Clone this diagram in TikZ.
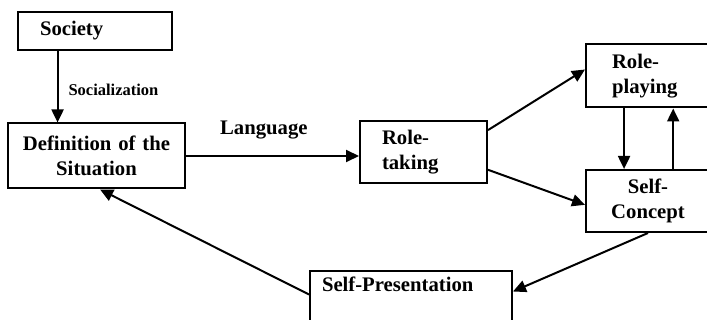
\documentclass[tikz,border=0pt]{standalone}
\usepackage{fontspec}
\setmainfont{Liberation Serif}
\usetikzlibrary{arrows.meta,calc}
\tikzset{%
  >={Triangle[width=12pt,length=13pt]},
  % Specifications for style of nodes:
     base/.style = {rectangle, draw=black, line width=2pt,
                           font=\fontsize{20.7}{25}\selectfont\bfseries},
    leftBox/.style = {base, align=left},
    centreBox/.style = {base, align=center},
    flowLine/.style = {->, line width=2pt},
    edgeLabel/.style = {inner sep=2pt, font=\fontsize{20.7}{25}\selectfont\bfseries},
}

\begin{document}
\begin{tikzpicture}[x=1pt, y=1pt, node distance=125pt]
  \useasboundingbox (0,0) rectangle (707,-320);
  % Specification of nodes (position, etc.)
  \node (society)          [leftBox, text width=110pt, inner xsep=22pt, minimum height=38pt]
                              at (95,-31) {Society};

  \node (definition)       [centreBox, below of=society, xshift=1.5pt,
                              text width=165pt, inner xsep=6pt, minimum height=65pt]
                              {Definition of the\\
                               Situation};

  \node (roleTaking)       [leftBox, right of=definition, xshift=202pt, yshift=3.5pt,
                              text width=83pt, inner xsep=22pt, minimum height=62pt]
                              {Role-\\
                               taking};

  \node (rolePlaying)      [leftBox, right of=roleTaking, xshift=99.5pt, yshift=76.5pt,
                              text width=72pt, inner xsep=26pt, minimum height=63pt]
                              {Role-\\
                               playing};

  \node (selfConcept)      [centreBox, below of=rolePlaying,
                              text width=112pt, inner xsep=6pt, minimum height=62pt]
                              {Self-\\
                               Concept};

  \node (selfPresentation) [leftBox, below of=roleTaking, xshift=-12.5pt, yshift=-23pt,
                              text width=178pt, inner xsep=12pt, inner ysep=5pt,
                              text height=15pt, text depth=33pt]
                              {Self-Presentation};

  % Specification of lines between nodes specified above
  % with aditional nodes for description
  \draw[flowLine] ($(society.south west)!0.26!(society.south east)$) coordinate (socialTop)
        -- (socialTop |- definition.north)
        node[edgeLabel, pos=0.55, right=8pt, font=\fontsize{16.5}{19}\selectfont\bfseries] {Socialization};

  \draw[flowLine] (definition.east) -- (definition.east -| roleTaking.west)
        node[edgeLabel, pos=0.45, above=14pt] {Language};

  \draw[flowLine] ($(roleTaking.north east)!0.15!(roleTaking.south east)$)
        -- ($(rolePlaying.north west)!0.4!(rolePlaying.south west)$);
  \draw[flowLine] ($(roleTaking.north east)!0.77!(roleTaking.south east)$)
        -- ($(selfConcept.north west)!0.56!(selfConcept.south west)$);

  \draw[flowLine] ($(rolePlaying.south west)!0.31!(rolePlaying.south east)$) coordinate (playDown)
        -- (playDown |- selfConcept.north);
  \draw[flowLine] ($(selfConcept.north west)!0.7!(selfConcept.north east)$) coordinate (conceptUp)
        -- (conceptUp |- rolePlaying.south);

  \draw[flowLine] (selfConcept.south)
        -- ($(selfPresentation.north east)!0.35!(selfPresentation.south east)$);
  \draw[flowLine] ($(selfPresentation.north west)!0.4!(selfPresentation.south west)$)
        -- ($(definition.south west)!0.52!(definition.south east)$);

\end{tikzpicture}
\end{document}
